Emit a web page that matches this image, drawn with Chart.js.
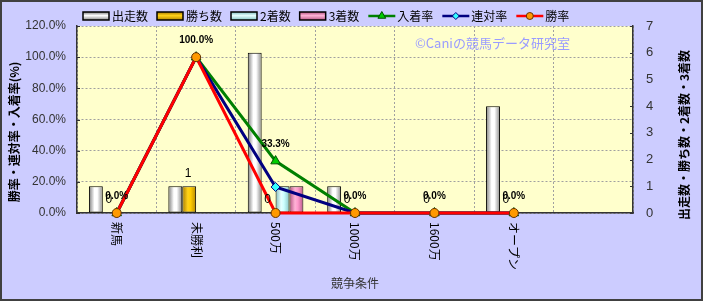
<!DOCTYPE html>
<html><head><meta charset="utf-8">
<script src="https://cdn.jsdelivr.net/npm/chart.js@4"></script>
<style>html,body{margin:0;padding:0;background:#CCCCFF}canvas{display:block}</style>
</head><body>
<canvas id="c" width="703" height="301"></canvas>
<script>
const categories = ['新馬','未勝利','500万','1000万','1600万','オープン',''];
const runs = [1,1,6,1,0,4,null];
const wins = [0,1,0,0,0,0,null];
const seconds = [0,0,1,0,0,0,null];
const thirds = [0,0,1,0,0,0,null];
const placeRate = [0,100,33.3,0,0,0,null];
const rentaiRate = [0,100,16.7,0,0,0,null];
const winRate = [0,100,0,0,0,0,null];
const leftTitle = '勝率・連対率・入着率(%)';
const rightTitle = '出走数・勝ち数・2着数・3着数';
const xTitle = '競争条件';
const watermark = '©Caniの競馬データ研究室';

const JP = '"Noto Sans CJK JP", "Noto Sans", sans-serif';
const NUM = '"Liberation Sans", Arial, sans-serif';

const barGrad = [
  ['#7c7c7c','#ffffff','#ffffff','#8a8a8a'],
  ['#a77a00','#ffd21a','#ffcc00','#b58700'],
  ['#7fbcbc','#e6ffff','#ccffff','#86c4c4'],
  ['#b0507f','#ffb3d6','#ff99cc','#b85a88']
];

function mkBar(label, data, idx) {
  return {type:'bar', label, data, yAxisID:'y1', order:10+idx,
    backgroundColor: barGrad[idx][2], borderColor:'#000',
    borderWidth: c => (c.raw ? 1 : 0), borderSkipped:false,
    categoryPercentage:0.7, barPercentage:1.0, gradIdx: idx};
}
function mkLine(label, data, color, pStyle, pColor, pBorder, radius, order) {
  return {type:'line', label, data, yAxisID:'y', order,
    borderColor: color, borderWidth: 3, backgroundColor: pColor,
    pointStyle: pStyle, pointRadius: radius, pointBackgroundColor: pColor,
    pointBorderColor: pBorder, pointBorderWidth: 1, tension:0, clip:false, spanGaps:false};
}

const bgPlugin = {
  id:'bg',
  beforeDraw(chart){
    const {ctx, chartArea:a} = chart;
    ctx.save();
    ctx.fillStyle = '#CCCCFF'; ctx.fillRect(0,0,chart.width,chart.height);
    ctx.fillStyle = '#FFFFCC'; ctx.fillRect(a.left,a.top,a.right-a.left,a.bottom-a.top);
    ctx.restore();
  },
  beforeDatasetsDraw(chart){
    const ctx = chart.ctx;
    chart.data.datasets.forEach((ds, di) => {
      if (ds.type !== 'bar') return;
      const meta = chart.getDatasetMeta(di);
      const g = barGrad[ds.gradIdx];
      meta.data.forEach(el => {
        const l = el.x - el.width/2, r = el.x + el.width/2;
        const grad = ctx.createLinearGradient(l,0,r,0);
        grad.addColorStop(0, g[0]); grad.addColorStop(0.4, g[1]);
        grad.addColorStop(0.6, g[2]); grad.addColorStop(1, g[3]);
        el.options = Object.assign({}, el.options, {backgroundColor: grad});
      });
    });
  },
  afterDatasetsDraw(chart){
    const ctx = chart.ctx;
    ctx.save();
    const pm = chart.getDatasetMeta(4);
    ctx.fillStyle = '#000'; ctx.textAlign='center'; ctx.textBaseline='middle';
    ctx.font = 'bold 10px ' + NUM;
    pm.data.forEach((el,i) => {
      const v = placeRate[i]; if (v === null) return;
      ctx.fillText(v.toFixed(1)+'%', el.x, el.y - 17);
    });
    const wm = chart.getDatasetMeta(1);
    ctx.font = '12px ' + NUM;
    wm.data.forEach((el,i) => {
      const v = wins[i]; if (v === null) return;
      ctx.fillText(String(v), el.x - 1, el.y - 13);
    });
    ctx.restore();
  },
  afterDraw(chart){
    const {ctx, chartArea:a} = chart;
    const xs = chart.scales.x, yl = chart.scales.y, yr = chart.scales.y1;
    ctx.save();
    ctx.strokeStyle = '#333'; ctx.lineWidth = 1;
    yl.ticks.forEach(t => { const y = Math.round(yl.getPixelForValue(t.value))+0.5;
      ctx.beginPath(); ctx.moveTo(a.left, y); ctx.lineTo(a.left+3, y); ctx.stroke(); });
    yr.ticks.forEach(t => { const y = Math.round(yr.getPixelForValue(t.value))+0.5;
      ctx.beginPath(); ctx.moveTo(a.right-3, y); ctx.lineTo(a.right, y); ctx.stroke(); });
    ctx.fillStyle = '#000'; ctx.font = '12px ' + JP;
    ctx.textAlign = 'left'; ctx.textBaseline = 'middle';
    categories.forEach((c,i) => {
      if (!c) return;
      const x = xs.getPixelForValue(i);
      ctx.save(); ctx.translate(x, 222); ctx.rotate(Math.PI/2);
      ctx.fillText(c, 0, 0); ctx.restore();
    });
    ctx.fillStyle = '#333'; ctx.textAlign='center';
    ctx.font = '12px ' + JP;
    ctx.fillText(xTitle, (a.left+a.right)/2, 283);
    ctx.fillStyle = '#000'; ctx.font = 'bold 12px ' + JP;
    ctx.save(); ctx.translate(14, 132); ctx.rotate(-Math.PI/2); ctx.fillText(leftTitle,0,0); ctx.restore();
    ctx.save(); ctx.translate(684, 135); ctx.rotate(-Math.PI/2); ctx.fillText(rightTitle,0,0); ctx.restore();
    ctx.fillStyle = '#9a9cff'; ctx.font = '13px ' + JP; ctx.textAlign='left';
    ctx.fillText(watermark, 415, 43);
    let lx = 83; const ly = 16;
    ctx.font = '12px ' + JP;
    chart.data.datasets.forEach(ds => {
      if (ds.type === 'bar') {
        const g = barGrad[ds.gradIdx];
        const grad = ctx.createLinearGradient(0, ly-4, 0, ly+4);
        grad.addColorStop(0,g[0]); grad.addColorStop(0.45,g[1]); grad.addColorStop(1,g[3]);
        ctx.fillStyle = grad; ctx.fillRect(lx, ly-4, 26, 8);
        ctx.strokeStyle = '#000'; ctx.lineWidth = 1.5; ctx.strokeRect(lx, ly-4, 26, 8);
      } else {
        ctx.strokeStyle = ds.borderColor; ctx.lineWidth = 2.5;
        ctx.beginPath(); ctx.moveTo(lx, ly); ctx.lineTo(lx+27, ly); ctx.stroke();
        ctx.fillStyle = ds.pointBackgroundColor; ctx.strokeStyle = ds.pointBorderColor;
        ctx.lineWidth = 1;
        Chart.helpers.drawPoint(ctx, {pointStyle: ds.pointStyle, radius: ds.pointRadius-1, borderWidth:1}, lx+13.5, ly);
      }
      ctx.fillStyle = '#000'; ctx.textAlign='left';
      ctx.fillText(ds.label, lx+29, ly);
      lx += 29 + ctx.measureText(ds.label).width + 9;
    });
    ctx.strokeStyle = '#404040'; ctx.lineWidth = 2;
    ctx.strokeRect(1,1,chart.width-2,chart.height-2);
    ctx.restore();
  }
};

const chart = new Chart(document.getElementById('c'), {
  data: {
    labels: categories,
    datasets: [
      mkBar('出走数', runs, 0),
      mkBar('勝ち数', wins, 1),
      mkBar('2着数', seconds, 2),
      mkBar('3着数', thirds, 3),
      mkLine('入着率', placeRate, '#008000', 'triangle', '#00cc00', '#005000', 5.5, 3),
      mkLine('連対率', rentaiRate, '#000080', 'rectRot', '#33ffff', '#000080', 4.5, 2),
      mkLine('勝率', winRate, '#ff0000', 'circle', '#ff9900', '#663300', 4.5, 1)
    ]
  },
  options: {
    responsive:false, animation:false,
    layout:{padding:{top:26,left:0,right:0,bottom:0}},
    plugins:{legend:{display:false}, tooltip:{enabled:false}},
    scales:{
      x:{ type:'category', offset:true,
        grid:{offset:true, color:'#a0a0a0', lineWidth:1, drawTicks:false},
        border:{display:true, color:'#333', width:1.5, dash:[2,2]},
        ticks:{display:false},
        afterFit(s){ s.height = 88; } },
      y:{ position:'left', min:0, max:120,
        grid:{color:'#a0a0a0', lineWidth:1, drawTicks:false},
        border:{display:true, color:'#333', width:1.5, dash:[2,2]},
        ticks:{stepSize:20, padding:11, color:'#333', font:{family:NUM, size:12},
          callback: v => v.toFixed(1)+'%'},
        afterFit(s){ s.width = 77; } },
      y1:{ position:'right', min:0, max:7,
        grid:{drawOnChartArea:false, drawTicks:false},
        border:{display:true, color:'#333', width:1.5},
        ticks:{stepSize:1, padding:13, color:'#333', font:{family:NUM, size:13}},
        afterFit(s){ s.width = 70; } }
    }
  },
  plugins:[bgPlugin]
});
</script>
</body></html>
